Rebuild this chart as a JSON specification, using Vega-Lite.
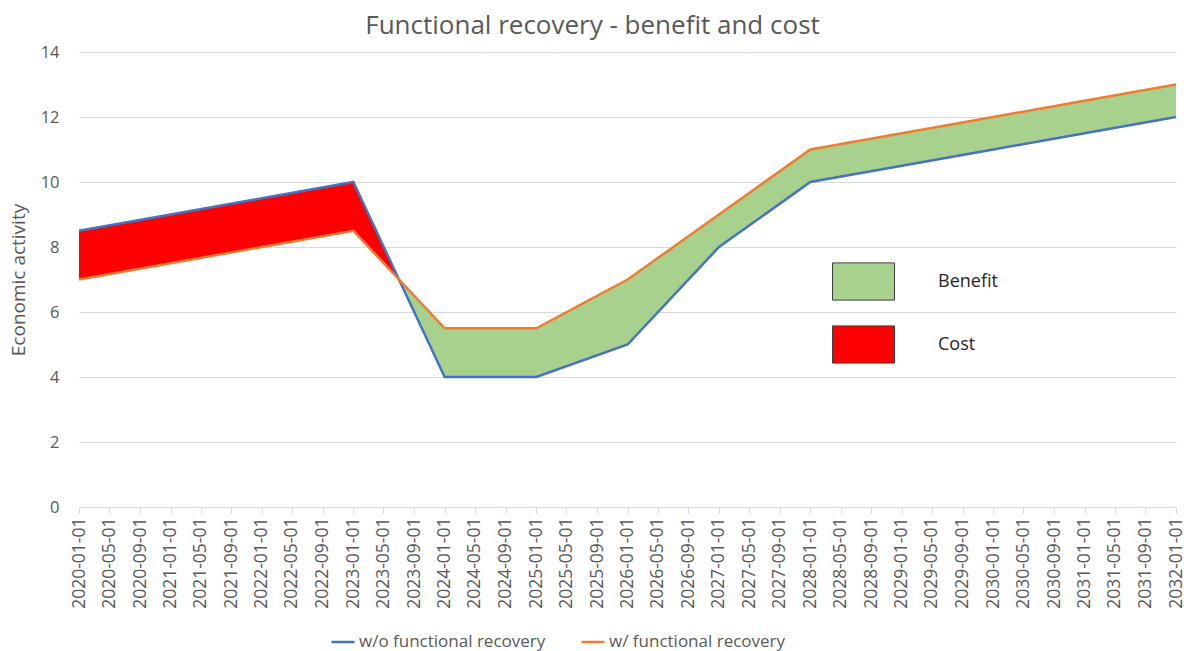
{
  "$schema": "https://vega.github.io/schema/vega-lite/v6.json",
  "width": 1097,
  "height": 455,
  "autosize": "none",
  "padding": {"left": 79, "top": 52, "right": 13, "bottom": 144},
  "background": "white",
  "config": {
    "font": "Open Sans",
    "view": {"stroke": null},
    "axis": {"labelColor": "#595959", "titleColor": "#595959", "labelFont": "Open Sans", "titleFont": "Open Sans"}
  },
  "title": {
    "text": "Functional recovery - benefit and cost",
    "font": "Open Sans",
    "fontSize": 26,
    "fontWeight": "normal",
    "color": "#595959",
    "anchor": "middle",
    "frame": "group",
    "dx": -35,
    "offset": 5
  },
  "datasets": {
    "series": [
      {"date": "2020-01-01", "series": "w/o functional recovery", "value": 8.5},
      {"date": "2021-01-01", "series": "w/o functional recovery", "value": 9},
      {"date": "2022-01-01", "series": "w/o functional recovery", "value": 9.5},
      {"date": "2023-01-01", "series": "w/o functional recovery", "value": 10},
      {"date": "2024-01-01", "series": "w/o functional recovery", "value": 4},
      {"date": "2025-01-01", "series": "w/o functional recovery", "value": 4},
      {"date": "2026-01-01", "series": "w/o functional recovery", "value": 5},
      {"date": "2027-01-01", "series": "w/o functional recovery", "value": 8},
      {"date": "2028-01-01", "series": "w/o functional recovery", "value": 10},
      {"date": "2029-01-01", "series": "w/o functional recovery", "value": 10.5},
      {"date": "2030-01-01", "series": "w/o functional recovery", "value": 11},
      {"date": "2031-01-01", "series": "w/o functional recovery", "value": 11.5},
      {"date": "2032-01-01", "series": "w/o functional recovery", "value": 12},
      {"date": "2020-01-01", "series": "w/ functional recovery", "value": 7},
      {"date": "2021-01-01", "series": "w/ functional recovery", "value": 7.5},
      {"date": "2022-01-01", "series": "w/ functional recovery", "value": 8},
      {"date": "2023-01-01", "series": "w/ functional recovery", "value": 8.5},
      {"date": "2024-01-01", "series": "w/ functional recovery", "value": 5.5},
      {"date": "2025-01-01", "series": "w/ functional recovery", "value": 5.5},
      {"date": "2026-01-01", "series": "w/ functional recovery", "value": 7},
      {"date": "2027-01-01", "series": "w/ functional recovery", "value": 9},
      {"date": "2028-01-01", "series": "w/ functional recovery", "value": 11},
      {"date": "2029-01-01", "series": "w/ functional recovery", "value": 11.5},
      {"date": "2030-01-01", "series": "w/ functional recovery", "value": 12},
      {"date": "2031-01-01", "series": "w/ functional recovery", "value": 12.5},
      {"date": "2032-01-01", "series": "w/ functional recovery", "value": 13}
    ],
    "bands": [
      {"date": "2020-01-01", "zone": "Cost", "low": 7, "high": 8.5},
      {"date": "2021-01-01", "zone": "Cost", "low": 7.5, "high": 9},
      {"date": "2022-01-01", "zone": "Cost", "low": 8, "high": 9.5},
      {"date": "2023-01-01", "zone": "Cost", "low": 8.5, "high": 10},
      {"date": "2023-07-02", "zone": "Cost", "low": 7, "high": 7},
      {"date": "2023-07-02", "zone": "Benefit", "low": 7, "high": 7},
      {"date": "2024-01-01", "zone": "Benefit", "low": 4, "high": 5.5},
      {"date": "2025-01-01", "zone": "Benefit", "low": 4, "high": 5.5},
      {"date": "2026-01-01", "zone": "Benefit", "low": 5, "high": 7},
      {"date": "2027-01-01", "zone": "Benefit", "low": 8, "high": 9},
      {"date": "2028-01-01", "zone": "Benefit", "low": 10, "high": 11},
      {"date": "2029-01-01", "zone": "Benefit", "low": 10.5, "high": 11.5},
      {"date": "2030-01-01", "zone": "Benefit", "low": 11, "high": 12},
      {"date": "2031-01-01", "zone": "Benefit", "low": 11.5, "high": 12.5},
      {"date": "2032-01-01", "zone": "Benefit", "low": 12, "high": 13}
    ]
  },
  "encoding": {
    "x": {
      "field": "date",
      "type": "temporal",
      "scale": {"type": "utc", "domain": ["2020-01-01", "2032-01-01"], "nice": false},
      "axis": {
        "title": null,
        "labelExpr": "utcFormat(datum.value, '%Y-%m-%d')",
        "tickCount": {"interval": "month", "step": 4},
        "labelAngle": -90,
        "labelAlign": "right",
        "labelBaseline": "middle",
        "labelFontSize": 17.5,
        "labelPadding": 4,
        "labelOverlap": false,
        "labelFlush": false,
        "grid": false,
        "domain": true,
        "domainColor": "#d9d9d9",
        "domainWidth": 1,
        "ticks": true,
        "tickColor": "#d9d9d9",
        "tickSize": 6
      }
    }
  },
  "layer": [
    {
      "data": {"name": "bands"},
      "mark": {"type": "area", "opacity": 1, "strokeWidth": 0},
      "encoding": {
        "y": {
          "field": "high",
          "type": "quantitative",
          "scale": {"domain": [0, 14], "nice": false},
          "axis": {
            "title": "Economic activity",
            "titleFontSize": 19,
            "titleFontWeight": "normal",
            "titlePadding": 12,
            "values": [0, 2, 4, 6, 8, 10, 12, 14],
            "labelFontSize": 16.5,
            "labelPadding": 20,
            "domain": false,
            "ticks": false,
            "grid": true,
            "gridColor": "#d9d9d9",
            "gridWidth": 1
          }
        },
        "y2": {"field": "low"},
        "fill": {
          "field": "zone",
          "type": "nominal",
          "scale": {"domain": ["Benefit", "Cost"], "range": ["#a9d18e", "#ff0000"]},
          "legend": {
            "title": null,
            "orient": "none",
            "legendX": 753,
            "legendY": 198,
            "symbolType": "M-1,-0.6H1V0.6H-1Z",
            "symbolSize": 3844,
            "symbolStrokeColor": "#404040",
            "symbolStrokeWidth": 1,
            "symbolOpacity": 1,
            "labelFontSize": 18,
            "labelColor": "#262626",
            "labelOffset": 43,
            "labelLimit": 400,
            "rowPadding": 10
          }
        }
      }
    },
    {
      "data": {"name": "series"},
      "mark": {"type": "line", "strokeWidth": 2.5},
      "encoding": {
        "y": {"field": "value", "type": "quantitative"},
        "stroke": {
          "field": "series",
          "type": "nominal",
          "scale": {"domain": ["w/o functional recovery", "w/ functional recovery"], "range": ["#4472c4", "#ed7d31"]},
          "legend": {
            "title": null,
            "orient": "none",
            "direction": "horizontal",
            "legendX": 251,
            "legendY": 577,
            "symbolType": "stroke",
            "symbolSize": 529,
            "symbolStrokeWidth": 2.5,
            "labelFontSize": 17,
            "labelColor": "#595959",
            "labelOffset": 3,
            "labelLimit": 400,
            "columnPadding": 30
          }
        }
      }
    }
  ]
}
